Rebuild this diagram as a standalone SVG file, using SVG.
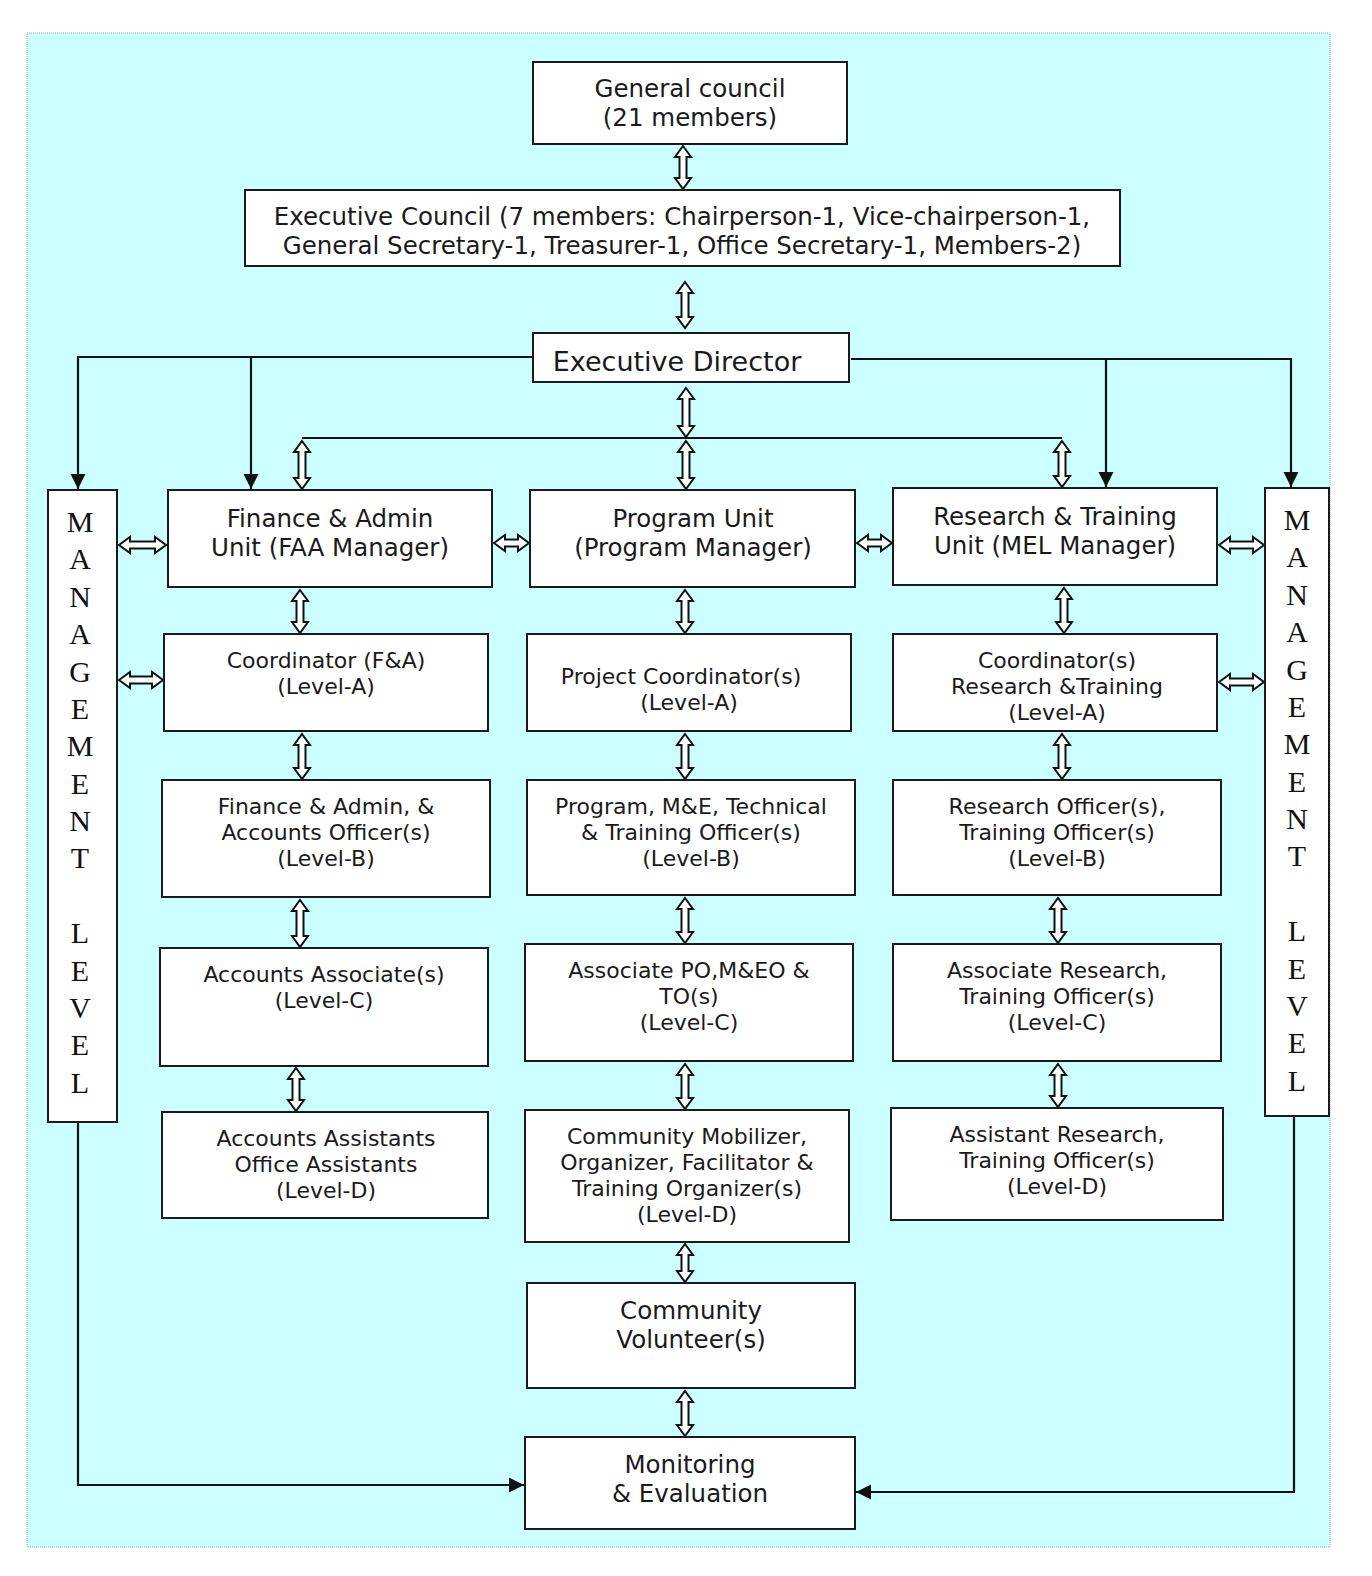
<svg xmlns="http://www.w3.org/2000/svg" width="1372" height="1576" viewBox="0 0 1372 1576">
<style>
.box{fill:#fff;stroke:#1a1a1a;stroke-width:2}
.t{font-family:"DejaVu Sans",Verdana,sans-serif;fill:#1a1a1a;text-anchor:middle}
.big{font-size:24.5px}
.sm{font-size:22px}
.ml{font-family:"Liberation Serif","Times New Roman",serif;font-size:30px;fill:#111;text-anchor:middle}
.ln{fill:none;stroke:#111;stroke-width:2.2}
.da{fill:#fff;stroke:#111;stroke-width:2;stroke-linejoin:miter}
</style>
<defs>
<marker id="ah" viewBox="0 0 10 10" refX="10" refY="5" markerWidth="7" markerHeight="7" orient="auto" markerUnits="strokeWidth">
<path d="M0,0 L10,5 L0,10 z" fill="#111"/>
</marker>
</defs>
<rect x="27" y="33" width="1303" height="1514" fill="#ccffff" stroke="#8fb3bf" stroke-width="1" stroke-dasharray="1,1"/>

<g id="connectors">
<path class="ln" d="M533,357 H78 V489" marker-end="url(#ah)"/>
<path class="ln" d="M251,357 V489" marker-end="url(#ah)"/>
<path class="ln" d="M851,359 H1291 V487" marker-end="url(#ah)"/>
<path class="ln" d="M1106,359 V487" marker-end="url(#ah)"/>
<path class="ln" d="M302,438 H1062"/>
<path class="ln" d="M78,1122 V1485 H524" marker-end="url(#ah)"/>
<path class="ln" d="M1294,1116 V1492 H856" marker-end="url(#ah)"/>
<g class="da">
<polygon transform="translate(683,146)" points="0,0 8,11 3.5,11 3.5,32 8,32 0,43 -8,32 -3.5,32 -3.5,11 -8,11"/>
<polygon transform="translate(685,282)" points="0,0 8,11 3.5,11 3.5,35 8,35 0,46 -8,35 -3.5,35 -3.5,11 -8,11"/>
<polygon transform="translate(686,388)" points="0,0 8,11 3.5,11 3.5,38 8,38 0,49 -8,38 -3.5,38 -3.5,11 -8,11"/>
<polygon transform="translate(302,441)" points="0,0 8,11 3.5,11 3.5,37 8,37 0,48 -8,37 -3.5,37 -3.5,11 -8,11"/>
<polygon transform="translate(686,441)" points="0,0 8,11 3.5,11 3.5,37 8,37 0,48 -8,37 -3.5,37 -3.5,11 -8,11"/>
<polygon transform="translate(1062,441)" points="0,0 8,11 3.5,11 3.5,35 8,35 0,46 -8,35 -3.5,35 -3.5,11 -8,11"/>
<polygon transform="translate(300,590)" points="0,0 8,11 3.5,11 3.5,32 8,32 0,43 -8,32 -3.5,32 -3.5,11 -8,11"/>
<polygon transform="translate(302,734)" points="0,0 8,11 3.5,11 3.5,34 8,34 0,45 -8,34 -3.5,34 -3.5,11 -8,11"/>
<polygon transform="translate(300,900)" points="0,0 8,11 3.5,11 3.5,36 8,36 0,47 -8,36 -3.5,36 -3.5,11 -8,11"/>
<polygon transform="translate(296,1068)" points="0,0 8,11 3.5,11 3.5,32 8,32 0,43 -8,32 -3.5,32 -3.5,11 -8,11"/>
<polygon transform="translate(685,590)" points="0,0 8,11 3.5,11 3.5,32 8,32 0,43 -8,32 -3.5,32 -3.5,11 -8,11"/>
<polygon transform="translate(685,734)" points="0,0 8,11 3.5,11 3.5,34 8,34 0,45 -8,34 -3.5,34 -3.5,11 -8,11"/>
<polygon transform="translate(685,898)" points="0,0 8,11 3.5,11 3.5,34 8,34 0,45 -8,34 -3.5,34 -3.5,11 -8,11"/>
<polygon transform="translate(685,1064)" points="0,0 8,11 3.5,11 3.5,34 8,34 0,45 -8,34 -3.5,34 -3.5,11 -8,11"/>
<polygon transform="translate(685,1244)" points="0,0 8,11 3.5,11 3.5,27 8,27 0,38 -8,27 -3.5,27 -3.5,11 -8,11"/>
<polygon transform="translate(685,1391)" points="0,0 8,11 3.5,11 3.5,34 8,34 0,45 -8,34 -3.5,34 -3.5,11 -8,11"/>
<polygon transform="translate(1064,588)" points="0,0 8,11 3.5,11 3.5,34 8,34 0,45 -8,34 -3.5,34 -3.5,11 -8,11"/>
<polygon transform="translate(1062,734)" points="0,0 8,11 3.5,11 3.5,34 8,34 0,45 -8,34 -3.5,34 -3.5,11 -8,11"/>
<polygon transform="translate(1058,898)" points="0,0 8,11 3.5,11 3.5,34 8,34 0,45 -8,34 -3.5,34 -3.5,11 -8,11"/>
<polygon transform="translate(1058,1064)" points="0,0 8,11 3.5,11 3.5,32 8,32 0,43 -8,32 -3.5,32 -3.5,11 -8,11"/>
<polygon transform="translate(119,545)" points="0,0 11,-8 11,-3.5 36,-3.5 36,-8 47,0 36,8 36,3.5 11,3.5 11,8"/>
<polygon transform="translate(119,680)" points="0,0 11,-8 11,-3.5 33,-3.5 33,-8 44,0 33,8 33,3.5 11,3.5 11,8"/>
<polygon transform="translate(494,543)" points="0,0 11,-8 11,-3.5 24,-3.5 24,-8 35,0 24,8 24,3.5 11,3.5 11,8"/>
<polygon transform="translate(857,543)" points="0,0 11,-8 11,-3.5 24,-3.5 24,-8 35,0 24,8 24,3.5 11,3.5 11,8"/>
<polygon transform="translate(1219,545)" points="0,0 11,-8 11,-3.5 34,-3.5 34,-8 45,0 34,8 34,3.5 11,3.5 11,8"/>
<polygon transform="translate(1219,682)" points="0,0 11,-8 11,-3.5 34,-3.5 34,-8 45,0 34,8 34,3.5 11,3.5 11,8"/>
</g>
</g>

<g id="general-council">
<rect class="box" x="533" y="62" width="314" height="82"/>
<text class="t big" x="690" y="97">General council</text>
<text class="t big" x="690" y="126">(21 members)</text>
</g>
<g id="executive-council">
<rect class="box" x="245" y="190" width="875" height="76"/>
<text class="t big" x="682" y="225">Executive Council (7 members: Chairperson-1, Vice-chairperson-1,</text>
<text class="t big" x="682" y="254">General Secretary-1, Treasurer-1, Office Secretary-1, Members-2)</text>
</g>
<g id="executive-director">
<rect class="box" x="533" y="333" width="316" height="49"/>
<text class="t" style="font-size:27px" x="677" y="371">Executive Director</text>
</g>

<g id="mgmt-left">
<rect class="box" x="48" y="490" width="69" height="632"/>
<text class="ml" x="80" y="532">M</text>
<text class="ml" x="80" y="569">A</text>
<text class="ml" x="80" y="607">N</text>
<text class="ml" x="80" y="644">A</text>
<text class="ml" x="80" y="682">G</text>
<text class="ml" x="80" y="719">E</text>
<text class="ml" x="80" y="756">M</text>
<text class="ml" x="80" y="794">E</text>
<text class="ml" x="80" y="831">N</text>
<text class="ml" x="80" y="868">T</text>
<text class="ml" x="80" y="943">L</text>
<text class="ml" x="80" y="981">E</text>
<text class="ml" x="80" y="1018">V</text>
<text class="ml" x="80" y="1055">E</text>
<text class="ml" x="80" y="1093">L</text>
</g>
<g id="mgmt-right">
<rect class="box" x="1265" y="488" width="64" height="628"/>
<text class="ml" x="1297" y="530">M</text>
<text class="ml" x="1297" y="567">A</text>
<text class="ml" x="1297" y="605">N</text>
<text class="ml" x="1297" y="642">A</text>
<text class="ml" x="1297" y="680">G</text>
<text class="ml" x="1297" y="717">E</text>
<text class="ml" x="1297" y="754">M</text>
<text class="ml" x="1297" y="792">E</text>
<text class="ml" x="1297" y="829">N</text>
<text class="ml" x="1297" y="866">T</text>
<text class="ml" x="1297" y="941">L</text>
<text class="ml" x="1297" y="979">E</text>
<text class="ml" x="1297" y="1016">V</text>
<text class="ml" x="1297" y="1053">E</text>
<text class="ml" x="1297" y="1091">L</text>
</g>

<g id="faa-unit">
<rect class="box" x="168" y="490" width="324" height="97"/>
<text class="t big" x="330" y="527">Finance &amp; Admin</text>
<text class="t big" x="330" y="556">Unit (FAA Manager)</text>
</g>
<g id="program-unit">
<rect class="box" x="530" y="490" width="325" height="97"/>
<text class="t big" x="693" y="527">Program Unit</text>
<text class="t big" x="693" y="556">(Program Manager)</text>
</g>
<g id="research-unit">
<rect class="box" x="893" y="488" width="324" height="97"/>
<text class="t big" x="1055" y="525">Research &amp; Training</text>
<text class="t big" x="1055" y="554">Unit (MEL Manager)</text>
</g>

<g id="fa-level-a">
<rect class="box" x="164" y="634" width="324" height="97"/>
<text class="t sm" x="326" y="668">Coordinator (F&amp;A)</text>
<text class="t sm" x="326" y="694">(Level-A)</text>
</g>
<g id="prog-level-a">
<rect class="box" x="527" y="634" width="324" height="97"/>
<text class="t sm" x="681" y="684">Project Coordinator(s)</text>
<text class="t sm" x="689" y="710">(Level-A)</text>
</g>
<g id="res-level-a">
<rect class="box" x="893" y="634" width="324" height="97"/>
<text class="t sm" x="1057" y="668">Coordinator(s)</text>
<text class="t sm" x="1057" y="694">Research &amp;Training</text>
<text class="t sm" x="1057" y="720">(Level-A)</text>
</g>

<g id="fa-level-b">
<rect class="box" x="162" y="780" width="328" height="117"/>
<text class="t sm" x="326" y="814">Finance &amp; Admin, &amp;</text>
<text class="t sm" x="326" y="840">Accounts Officer(s)</text>
<text class="t sm" x="326" y="866">(Level-B)</text>
</g>
<g id="prog-level-b">
<rect class="box" x="527" y="780" width="328" height="115"/>
<text class="t sm" x="691" y="814">Program, M&amp;E, Technical</text>
<text class="t sm" x="691" y="840">&amp; Training Officer(s)</text>
<text class="t sm" x="691" y="866">(Level-B)</text>
</g>
<g id="res-level-b">
<rect class="box" x="893" y="780" width="328" height="115"/>
<text class="t sm" x="1057" y="814">Research Officer(s),</text>
<text class="t sm" x="1057" y="840">Training Officer(s)</text>
<text class="t sm" x="1057" y="866">(Level-B)</text>
</g>

<g id="fa-level-c">
<rect class="box" x="160" y="948" width="328" height="118"/>
<text class="t sm" x="324" y="982">Accounts Associate(s)</text>
<text class="t sm" x="324" y="1008">(Level-C)</text>
</g>
<g id="prog-level-c">
<rect class="box" x="525" y="944" width="328" height="117"/>
<text class="t sm" x="689" y="978">Associate PO,M&amp;EO &amp;</text>
<text class="t sm" x="689" y="1004">TO(s)</text>
<text class="t sm" x="689" y="1030">(Level-C)</text>
</g>
<g id="res-level-c">
<rect class="box" x="893" y="944" width="328" height="117"/>
<text class="t sm" x="1057" y="978">Associate Research,</text>
<text class="t sm" x="1057" y="1004">Training Officer(s)</text>
<text class="t sm" x="1057" y="1030">(Level-C)</text>
</g>

<g id="fa-level-d">
<rect class="box" x="162" y="1112" width="326" height="106"/>
<text class="t sm" x="326" y="1146">Accounts Assistants</text>
<text class="t sm" x="326" y="1172">Office Assistants</text>
<text class="t sm" x="326" y="1198">(Level-D)</text>
</g>
<g id="prog-level-d">
<rect class="box" x="525" y="1110" width="324" height="132"/>
<text class="t sm" x="687" y="1144">Community Mobilizer,</text>
<text class="t sm" x="687" y="1170">Organizer, Facilitator &amp;</text>
<text class="t sm" x="687" y="1196">Training Organizer(s)</text>
<text class="t sm" x="687" y="1222">(Level-D)</text>
</g>
<g id="res-level-d">
<rect class="box" x="891" y="1108" width="332" height="112"/>
<text class="t sm" x="1057" y="1142">Assistant Research,</text>
<text class="t sm" x="1057" y="1168">Training Officer(s)</text>
<text class="t sm" x="1057" y="1194">(Level-D)</text>
</g>

<g id="community-volunteers">
<rect class="box" x="527" y="1283" width="328" height="105"/>
<text class="t big" x="691" y="1319">Community</text>
<text class="t big" x="691" y="1348">Volunteer(s)</text>
</g>
<g id="monitoring-evaluation">
<rect class="box" x="525" y="1437" width="330" height="92"/>
<text class="t big" x="690" y="1473">Monitoring</text>
<text class="t big" x="690" y="1502">&amp; Evaluation</text>
</g>
</svg>
